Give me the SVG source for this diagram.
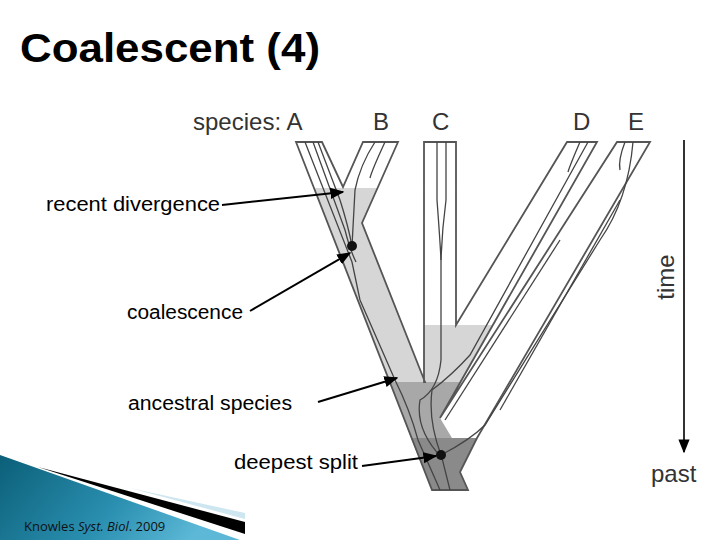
<svg xmlns="http://www.w3.org/2000/svg" width="720" height="540" viewBox="0 0 720 540">
<defs>
<linearGradient id="teal" x1="0" y1="0" x2="1" y2="0.3">
<stop offset="0" stop-color="#0b5f78"/><stop offset="0.6" stop-color="#2a8fb0"/><stop offset="1" stop-color="#5cb8d6"/>
</linearGradient>
<marker id="ah" viewBox="0 0 10 10" refX="9" refY="5" markerWidth="7" markerHeight="7" orient="auto-start-reverse"><path d="M0,1 L10,5 L0,9 z" fill="#000"/></marker>
<style>
.lbl{font-family:"Liberation Sans",Arial,sans-serif;font-size:20px;fill:#000}
.sp{font-family:"Liberation Sans",Arial,sans-serif;font-size:24px;fill:#333}
.tube{fill:none;stroke:#555;stroke-width:1.8;stroke-linejoin:miter}
.gene{fill:none;stroke:#444;stroke-width:1.3}
.arr{stroke:#000;stroke-width:2;marker-end:url(#ah)}
</style>
</defs>
<rect width="720" height="540" fill="#fff"/>
<text x="20" y="62" font-family="Liberation Sans,Arial,sans-serif" font-weight="bold" font-size="40" textLength="300" lengthAdjust="spacingAndGlyphs" fill="#000">Coalescent (4)</text>

<g id="tree">
<polygon points="296,142 322,142 343,187 363,142 398,142 362,223 425,382 424,382 424,142 456,142 456,325 567,142 597,142 440,418 617,142 650,142 477,438 460,472 468,490 432,490" fill="#fff"/>
<polygon points="314,188 378,188 362,223 425,382 390,382" fill="#d6d6d6"/>
<polygon points="424,325 493,325 460,382 424,382" fill="#d6d6d6"/>
<polygon points="390,382 460,382 440,418 452,438 411,438" fill="#a8a8a8"/>
<polygon points="411,438 477,438 460,472 468,490 432,490" fill="#8a8a8a"/>
<polygon class="tube" points="296,142 322,142 343,187 363,142 398,142 362,223 425,382 424,382 424,142 456,142 456,325 567,142 597,142 440,418 617,142 650,142 477,438 460,472 468,490 432,490"/>
<g class="gene">
<path d="M305,142 L352,262 L360,300 L395,380 Q410,410 418,440 L440,490"/>
<path d="M313,142 L345,230 Q350,250 356,262"/>
<path d="M318,142 L340,200 Q348,225 352,246"/>
<path d="M375,142 Q360,165 355,190 L352,246"/>
<path d="M385,142 Q372,170 370,178"/>
<path d="M437,142 L437,200 Q440,240 441,260 L441,360 Q438,390 420,400 Q415,430 442,458 L450,490"/>
<path d="M446,142 L446,200 Q442,230 441,260"/>
<path d="M580,142 Q570,165 568,172"/>
<path d="M588,142 L470,355 Q452,375 432,390 Q428,420 441,455"/>
<path d="M625,142 Q618,160 620,170"/>
<path d="M633,142 Q628,200 600,240 L485,425 Q470,440 441,455"/>
<path d="M560,240 L445,420"/>
<path d="M620,200 L500,410"/>
</g>
<circle cx="352" cy="246" r="5" fill="#111"/>
<circle cx="441" cy="455" r="5" fill="#111"/>
</g>

<g id="species-labels">
<text class="sp" x="193" y="130">species: A</text>
<text class="sp" x="373" y="130">B</text>
<text class="sp" x="432" y="130">C</text>
<text class="sp" x="573" y="130">D</text>
<text class="sp" x="628" y="130">E</text>
</g>

<g id="time">
<line x1="684" y1="140" x2="684" y2="452" stroke="#333" stroke-width="2" marker-end="url(#ah)"/>
<text class="sp" transform="translate(674,277) rotate(-90)" text-anchor="middle">time</text>
<text class="sp" x="651" y="482">past</text>
</g>

<g id="labels">
<text class="lbl" x="46" y="211" textLength="174" lengthAdjust="spacingAndGlyphs">recent divergence</text>
<text class="lbl" x="127" y="319" textLength="116" lengthAdjust="spacingAndGlyphs">coalescence</text>
<text class="lbl" x="128" y="410" textLength="164" lengthAdjust="spacingAndGlyphs">ancestral species</text>
<text class="lbl" x="234" y="469" textLength="124" lengthAdjust="spacingAndGlyphs">deepest split</text>
</g>

<g id="connectors">
<line class="arr" x1="222" y1="205" x2="343" y2="192"/>
<line class="arr" x1="250" y1="311" x2="350" y2="253"/>
<line class="arr" x1="318" y1="402" x2="397" y2="378"/>
<line class="arr" x1="362" y1="466" x2="436" y2="456"/>
</g>

<g id="footer">
<polygon points="0,455 0,540 240,540" fill="url(#teal)"/>
<polygon points="38,467 245,522 245,534" fill="#000"/>
<polygon points="130,488 245,513 245,519" fill="#cde6ef"/>
<text x="24" y="531" font-family="Open Sans,Liberation Sans,sans-serif" font-size="13" fill="#111">Knowles <tspan font-style="italic">Syst. Biol</tspan>. 2009</text>
</g>
</svg>
